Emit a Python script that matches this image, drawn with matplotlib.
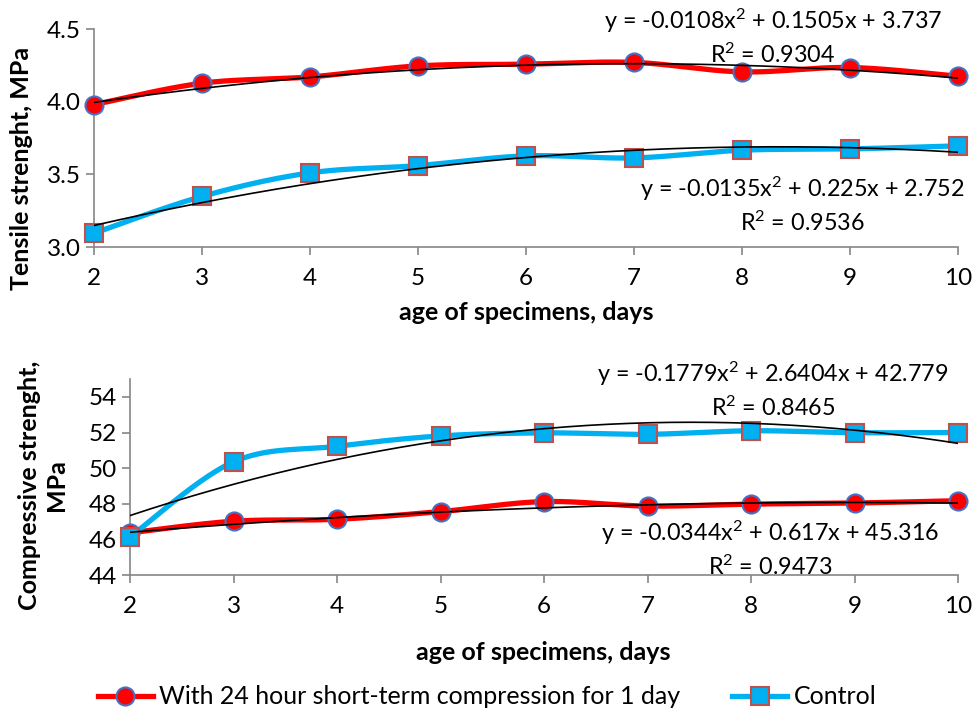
import numpy as np
import matplotlib
matplotlib.use("Agg")
import matplotlib.pyplot as plt
from matplotlib.lines import Line2D

plt.rcParams['font.family'] = ['Lato', 'DejaVu Sans']
plt.rcParams['mathtext.fontset'] = 'custom'
plt.rcParams['mathtext.rm'] = 'Lato'
plt.rcParams['mathtext.it'] = 'Lato'
plt.rcParams['mathtext.default'] = 'regular'

days = [2, 3, 4, 5, 6, 7, 8, 9, 10]

tensile_comp = [3.98, 4.127, 4.17, 4.246, 4.258, 4.27, 4.205, 4.235, 4.175]
tensile_ctrl = [3.095, 3.348, 3.51, 3.56, 3.627, 3.613, 3.666, 3.675, 3.696]

compr_comp = [46.38, 47.03, 47.14, 47.57, 48.13, 47.88, 47.99, 48.05, 48.18]
compr_ctrl = [46.15, 50.36, 51.23, 51.81, 51.98, 51.9, 52.1, 51.99, 52.0]

# trendline coefficients (a, b, c) and R^2
trend_tensile_comp = [-0.0108, 0.1505, 3.737]
r2_tensile_comp = 0.9304
trend_tensile_ctrl = [-0.0135, 0.225, 2.752]
r2_tensile_ctrl = 0.9536
trend_compr_ctrl = [-0.1779, 2.6404, 42.779]
r2_compr_ctrl = 0.8465
trend_compr_comp = [-0.0344, 0.617, 45.316]
r2_compr_comp = 0.9473

series_names = ["With 24 hour short-term compression for 1 day", "Control"]
x_label = "age of specimens, days"
y_label_top = "Tensile strenght, MPa"
y_label_bottom = "Compressive strenght,\nMPa"

RED = "#FF0000"
BLUE = "#00B0F0"
RED_EDGE = "#4472C4"
BLUE_EDGE = "#C0504D"
GRAY = "#868686"

FS = 18


def smooth(x, y, n=30):
    pts = np.column_stack([x, y]).astype(float)
    out = []
    m = len(pts)
    for i in range(m - 1):
        p0 = pts[i - 1] if i > 0 else pts[i]
        p1 = pts[i]
        p2 = pts[i + 1]
        p3 = pts[i + 2] if i + 2 < m else pts[i + 1]
        c1 = p1 + (p2 - p0) / 6.0
        c2 = p2 - (p3 - p1) / 6.0
        t = np.linspace(0, 1, n, endpoint=(i == m - 2))[:, None]
        seg = ((1 - t) ** 3) * p1 + 3 * ((1 - t) ** 2) * t * c1 + 3 * (1 - t) * t ** 2 * c2 + t ** 3 * p2
        out.append(seg)
    out = np.vstack(out)
    return out[:, 0], out[:, 1]


def eq_text(coef, r2):
    a, b, c = coef
    s = f"y = {'-' if a < 0 else ''}{abs(a):g}x$^{{2}}$ + {b:g}x + {c:g}"
    return s + "\n" + f"R$^{{2}}$ = {r2:g}"


def style_axes(ax):
    for s in ['top', 'right']:
        ax.spines[s].set_visible(False)
    for s in ['left', 'bottom']:
        ax.spines[s].set_color(GRAY)
        ax.spines[s].set_linewidth(1.2)
    ax.tick_params(axis='both', colors=GRAY, labelcolor='black', labelsize=17.5,
                   length=6, width=1.2, direction='out')
    ax.set_xlim(2, 10)
    ax.set_xticks(days)
    ax.patch.set_alpha(0)


def draw_series(ax, y, color, marker, mfc, mec, z):
    xs, ys = smooth(days, y)
    ax.plot(xs, ys, color=color, lw=3.8, zorder=z, solid_capstyle='round')
    ax.plot(days, y, ls='none', marker=marker, ms=13, mfc=mfc, mec=mec, mew=1.5,
            zorder=z + 0.5, clip_on=False)


def draw_trend(ax, coef):
    xt = np.linspace(days[0], days[-1], 200)
    ax.plot(xt, np.polyval(coef, xt), color='black', lw=1.2, zorder=10)


fig = plt.figure(figsize=(9.74, 7.11), dpi=100)

ax1 = fig.add_axes([94 / 974, 1 - 247 / 711, 864 / 974, 218 / 711])
style_axes(ax1)
ax1.set_ylim(3.0, 4.5)
ax1.set_yticks([3.0, 3.5, 4.0, 4.5])
ax1.yaxis.set_major_formatter(matplotlib.ticker.FormatStrFormatter('%.1f'))
draw_series(ax1, tensile_comp, RED, 'o', RED, RED_EDGE, 3)
draw_series(ax1, tensile_ctrl, BLUE, 's', BLUE, BLUE_EDGE, 3)
draw_trend(ax1, trend_tensile_comp)
draw_trend(ax1, trend_tensile_ctrl)
ax1.tick_params(axis='x', pad=9)

ax2 = fig.add_axes([130 / 974, 1 - 575.3 / 711, 828 / 974, 196.3 / 711])
style_axes(ax2)
ax2.set_ylim(44, 55)
ax2.set_yticks([44, 46, 48, 50, 52, 54])
draw_series(ax2, compr_comp, RED, 'o', RED, RED_EDGE, 3)
draw_series(ax2, compr_ctrl, BLUE, 's', BLUE, BLUE_EDGE, 3)
draw_trend(ax2, trend_compr_ctrl)
draw_trend(ax2, trend_compr_comp)
ax2.tick_params(axis='x', pad=9)

# equations
fs_eq = 16.8
kw = dict(ha='center', va='center', fontsize=fs_eq, linespacing=1.4, zorder=20)
fig.text(773 / 974, 1 - 37 / 711, eq_text(trend_tensile_comp, r2_tensile_comp), **kw)
fig.text(802 / 974, 1 - 205 / 711, eq_text(trend_tensile_ctrl, r2_tensile_ctrl), **kw)
fig.text(773 / 974, 1 - 390 / 711, eq_text(trend_compr_ctrl, r2_compr_ctrl), **kw)
fig.text(770 / 974, 1 - 549 / 711, eq_text(trend_compr_comp, r2_compr_comp), **kw)

# axis labels
fig.text(526 / 974, 1 - 313 / 711, x_label, ha='center', va='center', fontsize=FS, fontweight='bold')
fig.text(543 / 974, 1 - 652 / 711, x_label, ha='center', va='center', fontsize=FS, fontweight='bold')
fig.text(22 / 974, 1 - 168 / 711, y_label_top, ha='center', va='center', rotation=90,
         fontsize=FS, fontweight='bold')
fig.text(43 / 974, 1 - 485 / 711, y_label_bottom, ha='center', va='center', rotation=90,
         fontsize=FS, fontweight='bold', linespacing=1.2)

handles = [
    Line2D([], [], color=RED, lw=3.8, marker='o', ms=13, mfc=RED, mec=RED_EDGE, mew=1.5),
    Line2D([], [], color=BLUE, lw=3.8, marker='s', ms=13, mfc=BLUE, mec=BLUE_EDGE, mew=1.5),
]
fig.legend(handles, series_names, loc='center', bbox_to_anchor=(0.5, 1 - 697 / 711), ncol=2,
           frameon=False, fontsize=FS, handlelength=2.2, columnspacing=2.1, handletextpad=0.25)

fig.savefig("out.png", dpi=100)
